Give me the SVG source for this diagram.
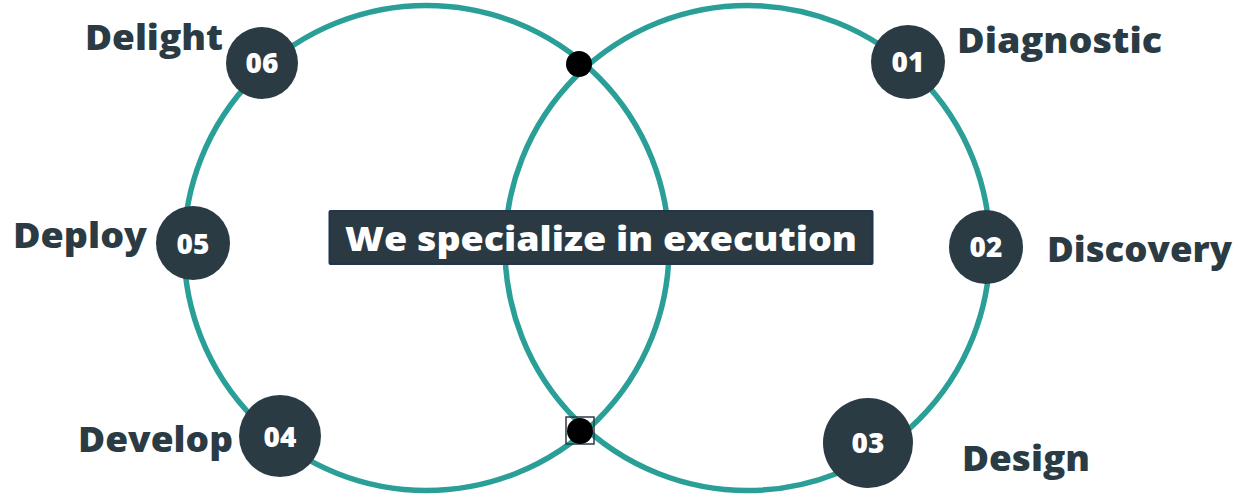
<svg xmlns="http://www.w3.org/2000/svg" width="1239" height="497" viewBox="0 0 1239 497">
<style>
.ring{fill:none;stroke:#2a9f97;stroke-width:5.5}
.node{fill:#2b3b44}
.num{fill:#ffffff;font-family:"Open Sans","Liberation Sans",sans-serif;font-weight:800;font-size:28px;text-anchor:middle}
.lbl{fill:#2b3b44;font-family:"Open Sans","Liberation Sans",sans-serif;font-weight:800;font-size:35px}
.title{fill:#ffffff;font-family:"Open Sans","Liberation Sans",sans-serif;font-weight:800;font-size:34px}
</style>
<rect width="1239" height="497" fill="#ffffff"/>
<g id="connectors">
<circle class="ring" cx="426.5" cy="248" r="242.5"/>
<circle class="ring" cx="747.5" cy="248" r="242.5"/>
</g>
<g id="dot-top"><circle cx="579" cy="64" r="13" fill="#000000"/></g>
<g id="dot-bottom">
<rect x="566" y="417" width="28" height="27" fill="none" stroke="#2b3b44" stroke-width="1.5"/>
<circle cx="580" cy="431" r="13" fill="#000000"/>
</g>
<g id="center">
<rect x="329.5" y="211" width="543" height="53" fill="#2b3a42" stroke="#1f3550" stroke-width="2" rx="1"/>
<text class="title" x="345" y="251" textLength="512" lengthAdjust="spacingAndGlyphs">We specialize in execution</text>
</g>
<g id="node-01">
<circle class="node" cx="908" cy="62" r="37"/>
<text class="num" x="908" y="72">01</text>
<text class="lbl" x="957" y="53" textLength="205" lengthAdjust="spacingAndGlyphs">Diagnostic</text>
</g>
<g id="node-02">
<circle class="node" cx="986" cy="247" r="37"/>
<text class="num" x="986" y="257">02</text>
<text class="lbl" x="1047" y="262" textLength="185" lengthAdjust="spacingAndGlyphs">Discovery</text>
</g>
<g id="node-03">
<circle class="node" cx="868" cy="443" r="45"/>
<text class="num" x="868" y="453">03</text>
<text class="lbl" x="962" y="471" textLength="128" lengthAdjust="spacingAndGlyphs">Design</text>
</g>
<g id="node-04">
<circle class="node" cx="280" cy="436" r="41"/>
<text class="num" x="280" y="447">04</text>
<text class="lbl" x="78" y="452" textLength="155" lengthAdjust="spacingAndGlyphs">Develop</text>
</g>
<g id="node-05">
<circle class="node" cx="193" cy="243" r="37"/>
<text class="num" x="193" y="254">05</text>
<text class="lbl" x="13" y="248" textLength="134" lengthAdjust="spacingAndGlyphs">Deploy</text>
</g>
<g id="node-06">
<circle class="node" cx="262" cy="63" r="36"/>
<text class="num" x="262" y="73">06</text>
<text class="lbl" x="85" y="50" textLength="138" lengthAdjust="spacingAndGlyphs">Delight</text>
</g>
</svg>
